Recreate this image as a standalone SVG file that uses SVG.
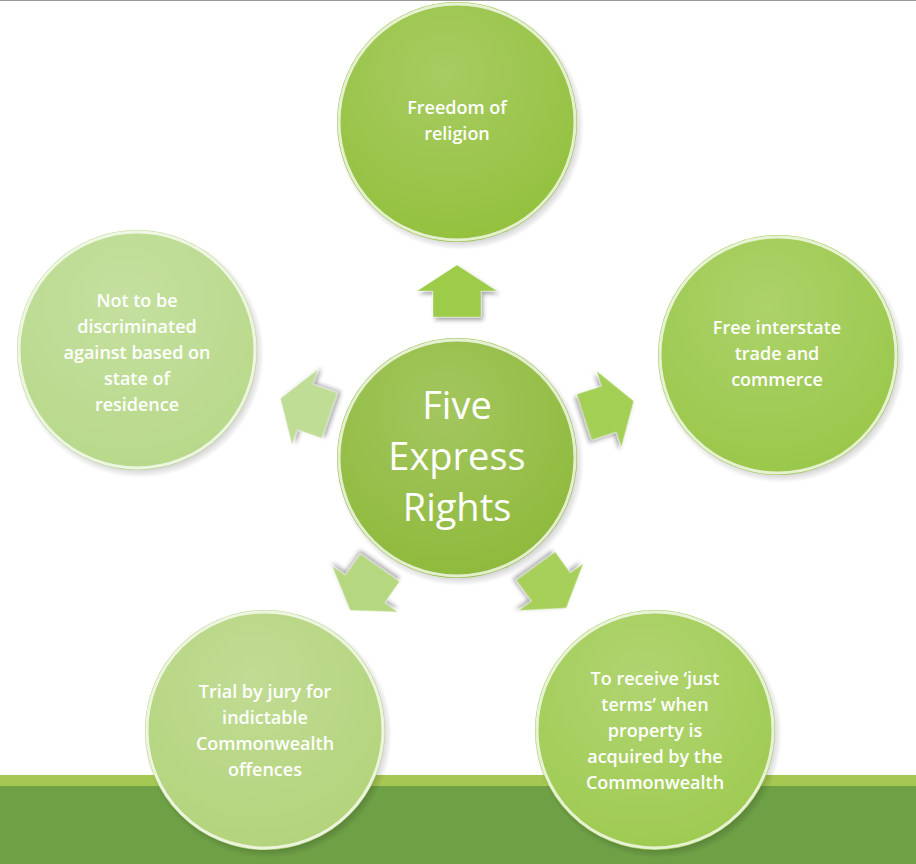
<svg xmlns="http://www.w3.org/2000/svg" width="916" height="864" viewBox="0 0 916 864">
<defs>
<radialGradient id="sh" cx="0.5" cy="0.5" r="0.5"><stop offset="0.85" stop-color="#000" stop-opacity="0.35"/><stop offset="1" stop-color="#000" stop-opacity="0"/></radialGradient>
<radialGradient id="hl" cx="0.45" cy="0.3" r="0.7"><stop offset="0" stop-color="#fff" stop-opacity="0.18"/><stop offset="1" stop-color="#fff" stop-opacity="0"/></radialGradient>
<path id="arr" d="M0,-26 L40,0 L24,0 L24,26 L-24,26 L-24,0 L-40,0 Z"/>
<filter id="ds" x="-30%" y="-30%" width="160%" height="160%"><feDropShadow dx="2" dy="3" stdDeviation="2" flood-opacity="0.35"/></filter>
</defs>
<style>
.t{font-family:"Open Sans","Liberation Sans",sans-serif;fill:#fff;font-size:18px;font-weight:600;text-anchor:middle}
.big{font-size:38px;font-weight:400}
.rim{fill:none;stroke:#fff;stroke-width:3;stroke-opacity:0.75}
.a{filter:url(#ds);stroke:#fff;stroke-opacity:0.3;stroke-width:1}
</style>
<rect width="916" height="864" fill="#fff"/>
<line x1="0" y1="0.5" x2="916" y2="0.5" stroke="#999"/>
<rect x="0" y="775" width="916" height="11" fill="#a5c853"/>
<rect x="0" y="786" width="916" height="78" fill="#6ea046"/>
<g id="connectors">
<use href="#arr" class="a" fill="#9dcc4a" transform="translate(457,291)"/>
<use href="#arr" class="a" fill="#a3cf55" transform="translate(609,409) rotate(72)"/>
<use href="#arr" class="a" fill="#c0dd96" transform="translate(305,407) rotate(-71)"/>
<use href="#arr" class="a" fill="#b5d77f" transform="translate(365,589) rotate(215)"/>
<use href="#arr" class="a" fill="#a7d05a" transform="translate(551,587) rotate(144)"/>
</g>
<g id="n-top">
<circle cx="460" cy="126" r="124" fill="url(#sh)"/>
<circle cx="457" cy="122" r="120" fill="#94c13f"/><circle cx="457" cy="122" r="120" fill="url(#hl)"/><circle cx="457" cy="122" r="118" class="rim"/>
<text class="t" x="457" y="114">Freedom of</text><text class="t" x="457" y="140">religion</text>
</g>
<g id="n-right">
<circle cx="781" cy="359" r="124" fill="url(#sh)"/>
<circle cx="778" cy="355" r="120" fill="#9ac84a"/><circle cx="778" cy="355" r="120" fill="url(#hl)"/><circle cx="778" cy="355" r="118" class="rim"/>
<text class="t" x="777" y="334">Free interstate</text><text class="t" x="777" y="360">trade and</text><text class="t" x="777" y="386">commerce</text>
</g>
<g id="n-left">
<circle cx="140" cy="354" r="124" fill="url(#sh)"/>
<circle cx="137" cy="350" r="120" fill="#b8d98a"/><circle cx="137" cy="350" r="120" fill="url(#hl)"/><circle cx="137" cy="350" r="118" class="rim"/>
<text class="t" x="137" y="307">Not to be</text><text class="t" x="137" y="333">discriminated</text><text class="t" x="137" y="359">against based on</text><text class="t" x="137" y="385">state of</text><text class="t" x="137" y="411">residence</text>
</g>
<g id="n-bl">
<circle cx="268" cy="734" r="124" fill="url(#sh)"/>
<circle cx="265" cy="730" r="120" fill="#b3d47c"/><circle cx="265" cy="730" r="120" fill="url(#hl)"/><circle cx="265" cy="730" r="118" class="rim"/>
<text class="t" x="265" y="698">Trial by jury for</text><text class="t" x="265" y="724">indictable</text><text class="t" x="265" y="750">Commonwealth</text><text class="t" x="265" y="776">offences</text>
</g>
<g id="n-br">
<circle cx="658" cy="734" r="124" fill="url(#sh)"/>
<circle cx="655" cy="730" r="120" fill="#9fcb52"/><circle cx="655" cy="730" r="120" fill="url(#hl)"/><circle cx="655" cy="730" r="118" class="rim"/>
<text class="t" x="655" y="685">To receive ‘just</text><text class="t" x="655" y="711">terms’ when</text><text class="t" x="655" y="737">property is</text><text class="t" x="655" y="763">acquired by the</text><text class="t" x="655" y="789">Commonwealth</text>
</g>
<g id="n-center">
<circle cx="460" cy="462" r="124" fill="url(#sh)"/>
<circle cx="457" cy="458" r="120" fill="#8fba3c"/><circle cx="457" cy="458" r="120" fill="url(#hl)"/><circle cx="457" cy="458" r="118" class="rim"/>
<text class="t big" x="457" y="419">Five</text><text class="t big" x="457" y="470">Express</text><text class="t big" x="457" y="521">Rights</text>
</g>
</svg>
